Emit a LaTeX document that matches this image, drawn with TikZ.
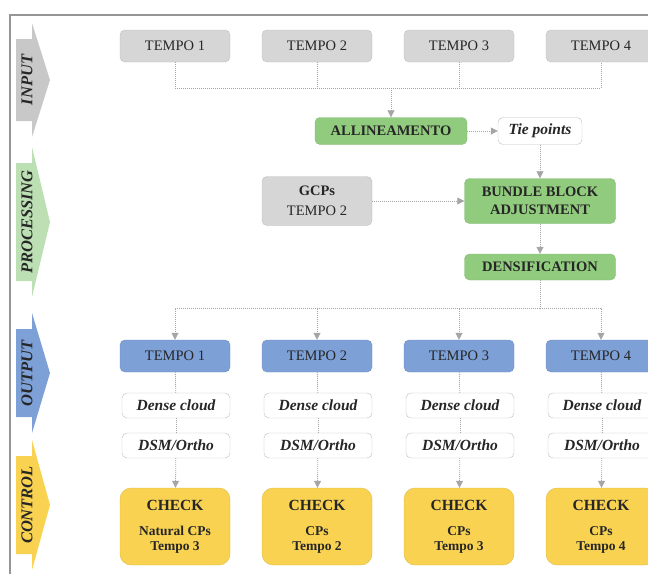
\documentclass[tikz,border=0pt]{standalone}
\usepackage{fontspec}
\setmainfont{Liberation Serif}
\usepackage{tikz}
\definecolor{phgray}{RGB}{200,200,200}
\definecolor{phgreen}{RGB}{188,224,180}
\definecolor{outblue}{RGB}{125,160,215}
\definecolor{ctrlyellow}{RGB}{248,210,80}
\definecolor{boxgray}{RGB}{214,214,214}
\definecolor{procgreen}{RGB}{145,204,126}
\definecolor{boxline}{RGB}{190,190,190}
\definecolor{linegray}{RGB}{165,165,165}
\definecolor{framegray}{RGB}{150,150,150}
\usetikzlibrary{positioning,arrows.meta}
\tikzset{%
  box/.style={draw=boxline, rectangle, rounded corners=5pt, minimum width=110pt,
    minimum height=32pt, inner sep=2pt, align=center, text=black!85,
    font=\fontsize{14.5}{17}\selectfont},
  input/.style={box, fill=boxgray},% image sets and GCPs
  process/.style={box, fill=procgreen, draw=procgreen!90!black,
    font=\fontsize{14.5}{18}\selectfont\bfseries},% processing steps
  output/.style={box, fill=outblue, draw=outblue!90!black},% products per tempo
  product/.style={box, fill=white, minimum width=108pt, minimum height=25pt,
    font=\fontsize{15.5}{17}\selectfont\bfseries\itshape},% tie points, clouds
  check/.style={box, fill=ctrlyellow, draw=ctrlyellow!90!black, rounded corners=11pt,
    minimum height=77pt, font=\fontsize{13.5}{15}\selectfont\bfseries},% control
  phase/.style={rotate=90, text=black!85, font=\fontsize{16.5}{16}\selectfont\bfseries\itshape},
  link/.style={draw=linegray, line width=0.8pt, dash pattern=on 1pt off 1pt},
  flow/.style={link, -{Triangle[length=7pt,width=7pt]}},
  frame/.style={draw=framegray, line width=1.2pt}
}
\newcommand*{\phasebar}[5]{% name, top, bottom, colour, label
  \fill[#4] (16,#2+16) -- (32,#2+16) -- (32,#2) -- (50,#2/2+#3/2)
    -- (32,#3) -- (32,#3-16) -- (16,#3-16) -- cycle;
  \node[phase] (#1) at (27,#2/2+#3/2) {#5};}
\begin{document}
\begin{tikzpicture}[x=1pt, y=-1pt]
\useasboundingbox (0,0) rectangle (648,574);
\draw[frame] (10,574) -- (10,15) -- (660,15);
% phases on the left
\phasebar{pin}{23}{137}{phgray}{INPUT}
\phasebar{pproc}{147}{297}{phgreen}{PROCESSING}
\phasebar{pout}{313}{433}{outblue}{OUTPUT}
\phasebar{pctrl}{440}{570}{ctrlyellow}{CONTROL}
% input
\node[input] (in1) at (175,46) {TEMPO 1};
\node[input] (in2) at (317,46) {TEMPO 2};
\node[input] (in3) at (459,46) {TEMPO 3};
\node[input] (in4) at (601,46) {TEMPO 4};
\coordinate (bus1) at (391,88);
% processing
\node[process, minimum width=152pt, minimum height=27pt] (allin) at (391,131) {ALLINEAMENTO};
\node[product, minimum width=84pt, minimum height=27pt] (tiep) at (540,131) {Tie points};
\node[input, minimum height=49pt, font=\fontsize{14.5}{20}\selectfont] (gcp) at (317,201) {\textbf{GCPs}\\TEMPO 2};
\node[process, minimum width=151pt, minimum height=45pt] (bba) at (540,201) {BUNDLE BLOCK\\ADJUSTMENT};
\node[process, minimum width=151pt, minimum height=26pt] (dens) at (540,267) {DENSIFICATION};
\coordinate (bus2) at (540,308);
% output
\node[output] (out1) at (175,356) {TEMPO 1};
\node[output] (out2) at (317,356) {TEMPO 2};
\node[output] (out3) at (459,356) {TEMPO 3};
\node[output] (out4) at (601,356) {TEMPO 4};
\node[product] (cloud1) at (176,405.5) {Dense cloud};
\node[product] (cloud2) at (318,405.5) {Dense cloud};
\node[product] (cloud3) at (460,405.5) {Dense cloud};
\node[product] (cloud4) at (602,405.5) {Dense cloud};
\node[product] (dsm1) at (176,445.5) {DSM/Ortho};
\node[product] (dsm2) at (318,445.5) {DSM/Ortho};
\node[product] (dsm3) at (460,445.5) {DSM/Ortho};
\node[product] (dsm4) at (602,445.5) {DSM/Ortho};
% control
\node[check] (chk1) at (175,526.5) {{\fontsize{15.5}{15}\selectfont CHECK}\\[10pt]Natural CPs\\Tempo 3};
\node[check] (chk2) at (317,526.5) {{\fontsize{15.5}{15}\selectfont CHECK}\\[10pt]CPs\\Tempo 2};
\node[check] (chk3) at (459,526.5) {{\fontsize{15.5}{15}\selectfont CHECK}\\[10pt]CPs\\Tempo 3};
\node[check] (chk4) at (601,526.5) {{\fontsize{15.5}{15}\selectfont CHECK}\\[10pt]CPs\\Tempo 4};
% connectors
\draw[link] (in1.south) |- (bus1) -| (in4.south);
\draw[link] (in2.south) -- (in2.south |- bus1);
\draw[link] (in3.south) -- (in3.south |- bus1);
\draw[flow] (bus1) -- (allin);
\draw[flow] (allin) -- (tiep);
\draw[flow] (tiep) -- (bba);
\draw[flow] (gcp) -- (bba);
\draw[flow] (bba) -- (dens);
\draw[link] (dens) -- (bus2);
\draw[flow] (bus2) -| (out1);
\draw[flow] (bus2) -| (out2);
\draw[flow] (bus2) -| (out3);
\draw[flow] (bus2) -| (out4);
\draw[link] (out1) edge (cloud1) (cloud1) edge (dsm1);
\draw[link] (out2) edge (cloud2) (cloud2) edge (dsm2);
\draw[link] (out3) edge (cloud3) (cloud3) edge (dsm3);
\draw[link] (out4) edge (cloud4) (cloud4) edge (dsm4);
\draw[flow] (dsm1) -- (chk1);
\draw[flow] (dsm2) -- (chk2);
\draw[flow] (dsm3) -- (chk3);
\draw[flow] (dsm4) -- (chk4);
\end{tikzpicture}
\end{document}
